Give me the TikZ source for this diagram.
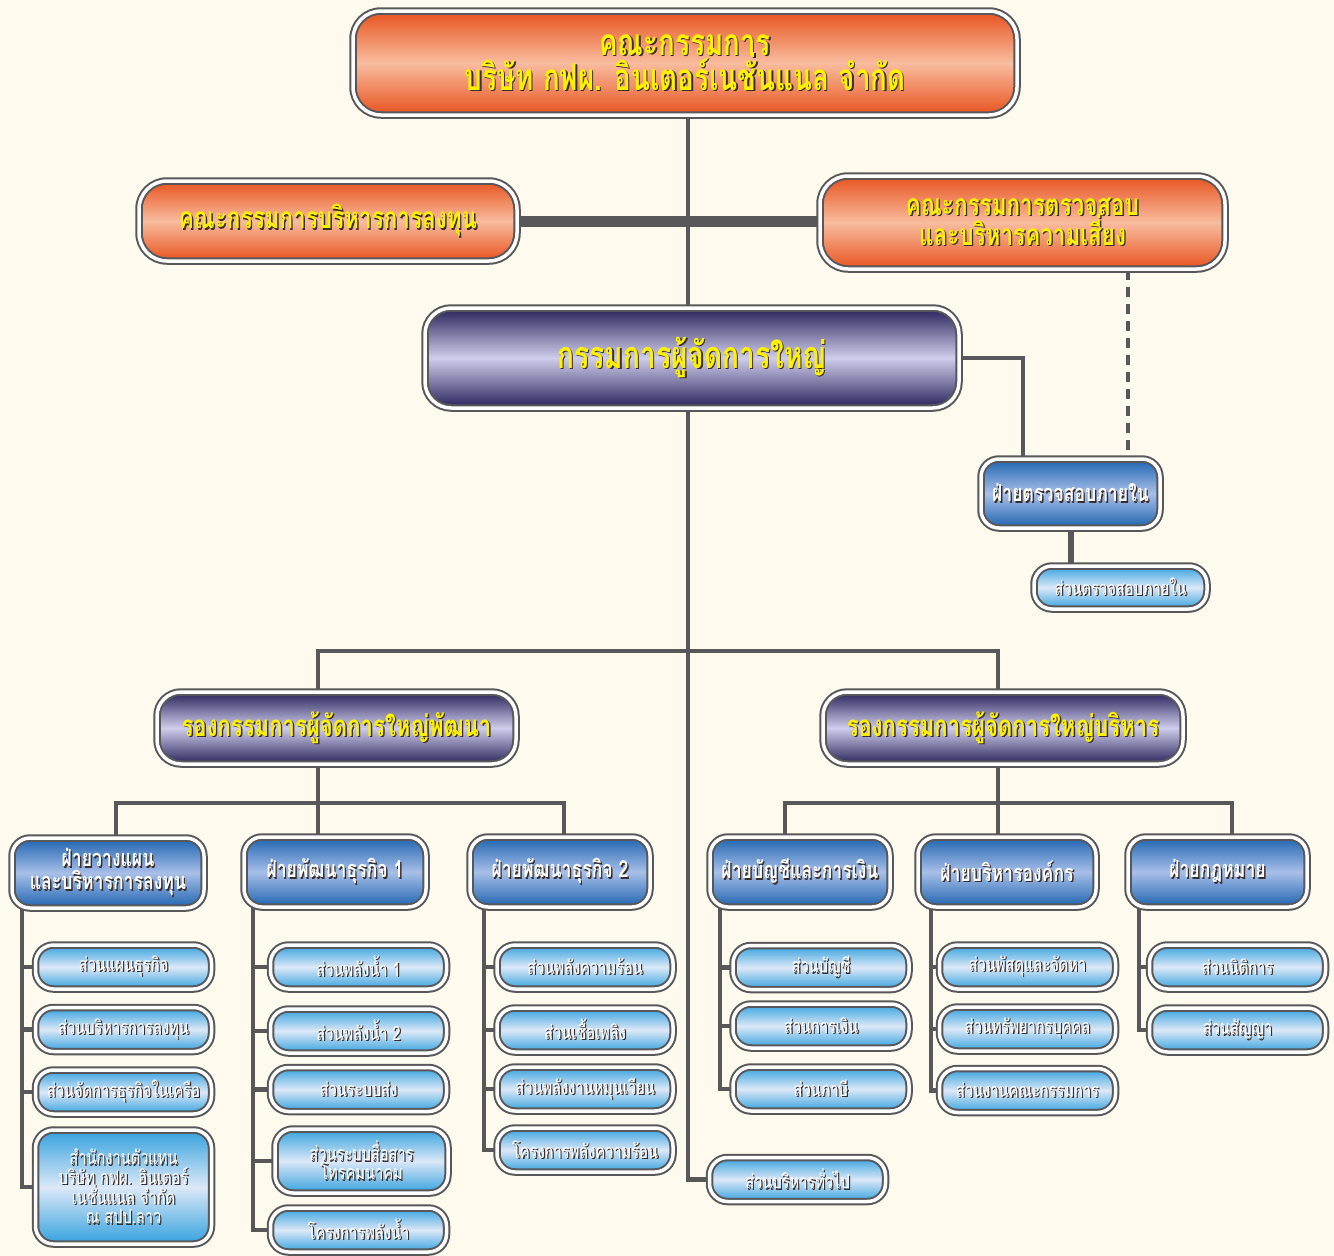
\documentclass[tikz,border=0pt]{standalone}
\usepackage{fontspec}
\newfontfamily\thai[Script=Thai,FakeStretch=0.75]{Loma}
\usetikzlibrary{calc}
\pgfdeclarelayer{bg}\pgfdeclarelayer{lines}\pgfsetlayers{bg,lines,main}
\definecolor{bgc}{HTML}{FEFAEE}
\definecolor{linegray}{HTML}{58585A}
\definecolor{orD}{HTML}{E8521E}
\definecolor{orL}{HTML}{F8BC9E}
\definecolor{puD}{HTML}{28225A}
\definecolor{puL}{HTML}{CFCDEB}
\definecolor{dbD}{HTML}{1D63B0}
\definecolor{dbL}{HTML}{A8BFE8}
\definecolor{lbD}{HTML}{33A1DE}
\definecolor{lbL}{HTML}{DCE8F7}
\definecolor{ylw}{HTML}{FFF200}
\definecolor{shd}{HTML}{3A2E2A}
\newcommand\sh[1]{\leavevmode\rlap{\kern1.4pt\raisebox{-1.4pt}{\textcolor{shd}{#1}}}#1}
\tikzset{
  box/.style={draw=linegray, double=white, double distance=3.5pt, line width=2pt,
    inner sep=0pt, align=center},
  orbox/.style={box, top color=orD, bottom color=orD, middle color=orL, text=ylw,
    font=\thai\bfseries\fontsize{30}{30}\selectfont},
  pubox/.style={box, top color=puD, bottom color=puD, middle color=puL, text=ylw,
    font=\thai\bfseries\fontsize{29.5}{30}\selectfont},
  deptbox/.style={box, top color=dbD, bottom color=dbD, middle color=dbL, text=white,
    rounded corners=18pt, minimum height=70pt,
    font=\thai\bfseries\fontsize{23.5}{23}\selectfont},
  secbox/.style={box, top color=lbD, bottom color=lbD, middle color=lbL, text=white,
    rounded corners=18pt, minimum width=176pt, minimum height=44pt,
    font=\thai\fontsize{19.5}{19.6}\selectfont},
  conn/.style={draw=linegray, line width=4.5pt},
}
\begin{document}
\lineskiplimit=-60pt
\begin{tikzpicture}[x=1pt,y=-1pt]
\begin{pgfonlayer}{bg}
\fill[bgc] (0,0) rectangle (1334,1256);
\end{pgfonlayer}
\useasboundingbox (0,0) rectangle (1334,1256);
% top level
\node[orbox, rounded corners=28pt, minimum width=664pt, minimum height=104pt,
  font=\thai\bfseries\fontsize{37}{35}\selectfont] (board) at (685,63)
  {\sh{คณะกรรมการ}\\\sh{บริษัท กฟผ. อินเตอร์เนชั่นแนล จำกัด}};
\node[orbox, rounded corners=28pt, minimum width=378pt, minimum height=80pt] (inv) at (328,221)
  {\sh{คณะกรรมการบริหารการลงทุน}};
\node[orbox, rounded corners=28pt, minimum width=405pt, minimum height=93pt] (aud) at (1022.5,222.5)
  {\sh{คณะกรรมการตรวจสอบ}\\\sh{และบริหารความเสี่ยง}};
\node[pubox, rounded corners=26pt, minimum width=534pt, minimum height=100pt,
  font=\thai\bfseries\fontsize{37.5}{36}\selectfont] (pres) at (692,358)
  {\sh{กรรมการผู้จัดการใหญ่}};
\node[deptbox, minimum width=179pt, minimum height=69pt] (ia) at (1070.5,493.5)
  {\sh{ฝ่ายตรวจสอบภายใน}};
\node[secbox, minimum width=173pt, minimum height=43pt] (ias) at (1120.5,587.5)
  {\sh{ส่วนตรวจสอบภายใน}};
\node[pubox, rounded corners=24pt, minimum width=359pt, minimum height=72pt] (vpd) at (336.5,728)
  {\sh{รองกรรมการผู้จัดการใหญ่พัฒนา}};
\node[pubox, rounded corners=24pt, minimum width=360pt, minimum height=72pt] (vpa) at (1003,728)
  {\sh{รองกรรมการผู้จัดการใหญ่บริหาร}};
% departments
\node[deptbox, minimum width=192pt] (d1) at (108,873) {\sh{ฝ่ายวางแผน}\\\sh{และบริหารการลงทุน}};
\node[deptbox, minimum width=182pt] (d2) at (335,872) {\sh{ฝ่ายพัฒนาธุรกิจ 1}};
\node[deptbox, minimum width=180pt] (d3) at (560,872) {\sh{ฝ่ายพัฒนาธุรกิจ 2}};
\node[deptbox, minimum width=180pt] (d4) at (800,872) {\sh{ฝ่ายบัญชีและการเงิน}};
\node[deptbox, minimum width=178pt] (d5) at (1007,872) {\sh{ฝ่ายบริหารองค์กร}};
\node[deptbox, minimum width=179pt] (d6) at (1217.5,872) {\sh{ฝ่ายกฎหมาย}};
% sections col 1
\node[secbox] (s11) at (123.5,967) {\sh{ส่วนแผนธุรกิจ}};
\node[secbox] (s12) at (123.5,1029.5) {\sh{ส่วนบริหารการลงทุน}};
\node[secbox] (s13) at (123.5,1092) {\sh{ส่วนจัดการธุรกิจในเครือ}};
\node[secbox, minimum height=114pt] (s14) at (123.5,1187)
  {\sh{สำนักงานตัวแทน}\\\sh{บริษัท กฟผ. อินเตอร์}\\\sh{เนชั่นแนล จำกัด}\\\sh{ณ สปป.ลาว}};
% col 2
\node[secbox] (s21) at (358.5,967) {\sh{ส่วนพลังน้ำ 1}};
\node[secbox] (s22) at (358.5,1031) {\sh{ส่วนพลังน้ำ 2}};
\node[secbox] (s23) at (358.5,1089.5) {\sh{ส่วนระบบส่ง}};
\node[secbox, minimum width=173pt, minimum height=64pt,
  font=\thai\fontsize{19.5}{19}\selectfont] (s24) at (361.5,1161) {\sh{ส่วนระบบสื่อสาร}\\\sh{โทรคมนาคม}};
\node[secbox] (s25) at (358.5,1230) {\sh{โครงการพลังน้ำ}};
% col 3
\node[secbox] (s31) at (585,967) {\sh{ส่วนพลังความร้อน}};
\node[secbox] (s32) at (585,1030) {\sh{ส่วนเชื้อเพลิง}};
\node[secbox] (s33) at (585,1089) {\sh{ส่วนพลังงานหมุนเวียน}};
\node[secbox] (s34) at (585,1150) {\sh{โครงการพลังความร้อน}};
% col 4
\node[secbox] (s41) at (821,967.5) {\sh{ส่วนบัญชี}};
\node[secbox] (s42) at (821,1026) {\sh{ส่วนการเงิน}};
\node[secbox] (s43) at (821,1089) {\sh{ส่วนภาษี}};
\node[secbox] (gen) at (797.5,1179.5) {\sh{ส่วนบริหารทั่วไป}};
% col 5
\node[secbox] (s51) at (1027.5,967) {\sh{ส่วนพัสดุและจัดหา}};
\node[secbox] (s52) at (1027.5,1029) {\sh{ส่วนทรัพยากรบุคคล}};
\node[secbox] (s53) at (1027.5,1090.5) {\sh{ส่วนงานคณะกรรมการ}};
% col 6
\node[secbox] (s61) at (1237.5,967) {\sh{ส่วนนิติการ}};
\node[secbox] (s62) at (1237.5,1030) {\sh{ส่วนสัญญา}};
% connectors
\coordinate (spine) at (688,0);
\coordinate (dashx) at (1128,0);
\coordinate (iax) at (1023,0);
\coordinate (j1) at (318,651);
\coordinate (j2) at (998,651);
\coordinate (k1) at (116,803);
\coordinate (k2) at (318,803);
\coordinate (k3) at (564,803);
\coordinate (m1) at (785,803);
\coordinate (m2) at (998,803);
\coordinate (m3) at (1232,803);
\coordinate (t1) at (22,0);
\coordinate (t2) at (253,0);
\coordinate (t3) at (484,0);
\coordinate (t4) at (720,0);
\coordinate (t5) at (931,0);
\coordinate (t6) at (1139,0);
\begin{pgfonlayer}{lines}
\draw[conn] (board.south -| spine) -- (pres.north -| spine);
\draw[conn, line width=11pt] (inv.east) -- (aud.west |- inv.east);
\draw[conn] (pres.south -| spine) |- (gen.west);
\draw[conn] (pres.east) -| (ia.north -| iax);
\draw[conn, line width=4pt, dash pattern=on 10pt off 7pt] (aud.south -| dashx) -- (ia.north -| dashx);
\draw[conn, line width=6pt] (ia.south) -- (ia.south |- ias.north);
\draw[conn] (j1 |- vpd.north) -- (j1) -- (j2) -- (j2 |- vpa.north);
\draw[conn] (k2 |- vpd.south) -- (k2) -- (k2 |- d2.north);
\draw[conn] (k1 |- d1.north) -- (k1) -- (k3) -- (k3 |- d3.north);
\draw[conn] (m2 |- vpa.south) -- (m2) -- (m2 |- d5.north);
\draw[conn] (m1 |- d4.north) -- (m1) -- (m3) -- (m3 |- d6.north);
\draw[conn] (t1 |- d1.south) |- (s14.west);
\foreach \s in {s11,s12,s13} \draw[conn] (\s.west) -- (\s.west -| t1);
\draw[conn] (t2 |- d2.south) |- (s25.west);
\foreach \s in {s21,s22,s23,s24} \draw[conn] (\s.west) -- (\s.west -| t2);
\draw[conn] (t3 |- d3.south) |- (s34.west);
\foreach \s in {s31,s32,s33} \draw[conn] (\s.west) -- (\s.west -| t3);
\draw[conn] (t4 |- d4.south) |- (s43.west);
\foreach \s in {s41,s42} \draw[conn] (\s.west) -- (\s.west -| t4);
\draw[conn] (t5 |- d5.south) |- (s53.west);
\foreach \s in {s51,s52} \draw[conn] (\s.west) -- (\s.west -| t5);
\draw[conn] (t6 |- d6.south) |- (s62.west);
\draw[conn] (s61.west) -- (s61.west -| t6);
\end{pgfonlayer}
\end{tikzpicture}
\end{document}
